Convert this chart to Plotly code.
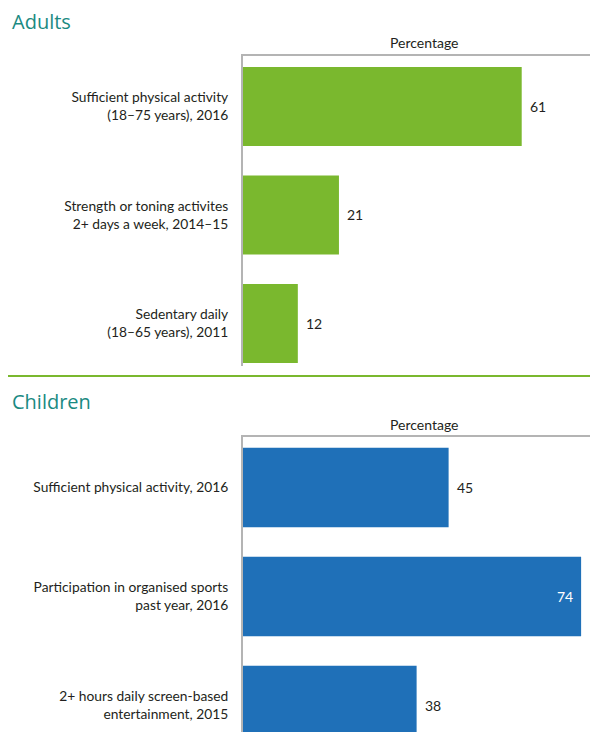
import plotly.graph_objects as go

adult_categories = ["Sufficient physical activity<br>(18–75 years), 2016",
                    "Strength or toning activites<br>2+ days a week, 2014–15",
                    "Sedentary daily<br>(18–65 years), 2011"]
adult_values = [61, 21, 12]
child_categories = ["Sufficient physical activity, 2016",
                    "Participation in organised sports<br>past year, 2016",
                    "2+ hours daily screen-based<br>entertainment, 2015"]
child_values = [45, 74, 38]
axis_title = "Percentage"
panel_titles = ["Adults", "Children"]

# page body has an 8px margin; the visible figure area is 582 x 724 starting at (8, 8)
OFF = 8
W, H = 598 - 2 * OFF, 740 - 2 * OFF
GREEN = "#7ab82e"
BLUE = "#1f70b8"
TEAL = "#1a8a82"
TXT = "#231f20"
FONT = "Lato"
AXIS_LEFT = 243
RIGHT = OFF + W
XR = [0, (RIGHT - AXIS_LEFT) / 4.569]
SCALE = (RIGHT - AXIS_LEFT) / (XR[1] - XR[0])

def pxx(px):
    return (px - OFF) / W

def pyy(py):
    return 1 - (py - OFF) / H

def value_label(v, xref, yref, cat):
    # outside the bar when it fits in the visible area, otherwise inside in white
    end = AXIS_LEFT + v * SCALE
    width = 7.6 * len(str(v))
    base = dict(x=v, y=cat, xref=xref, yref=yref, text=str(v), showarrow=False)
    if end + 6 + width <= RIGHT - 1:
        return dict(**base, xanchor="left", xshift=6,
                    font=dict(family=FONT, size=14, color=TXT))
    return dict(**base, xanchor="right", xshift=-6,
                font=dict(family=FONT, size=14, color="white"))

fig = go.Figure()
fig.add_trace(go.Bar(y=adult_categories, x=adult_values, orientation="h",
                     marker=dict(color=GREEN, line=dict(width=0)),
                     xaxis="x", yaxis="y", hoverinfo="skip"))
fig.add_trace(go.Bar(y=child_categories, x=child_values, orientation="h",
                     marker=dict(color=BLUE, line=dict(width=0)),
                     xaxis="x2", yaxis="y2", hoverinfo="skip"))

common_x = dict(domain=[pxx(AXIS_LEFT), 1], range=XR, side="top", showline=True,
                linecolor="#b4b4b4", linewidth=2, showticklabels=False,
                showgrid=False, zeroline=False, ticks="")
common_y = dict(showline=True, linecolor="#b4b4b4", linewidth=2,
                showgrid=False, zeroline=False, ticks="outside", ticklen=10,
                tickcolor="rgba(0,0,0,0)", tickfont=dict(family=FONT, size=13.8, color=TXT))

child_bottom = OFF + H
fig.update_layout(
    width=W, height=H, margin=dict(l=0, r=0, t=0, b=0),
    paper_bgcolor="white", plot_bgcolor="white", showlegend=False,
    bargap=0.272,
    xaxis=dict(anchor="y", **common_x),
    yaxis=dict(anchor="x", domain=[pyy(366), pyy(56)], range=[2.392, -0.465],
               categoryorder="array", categoryarray=adult_categories, **common_y),
    xaxis2=dict(anchor="y2", **common_x),
    yaxis2=dict(anchor="x2", domain=[0, pyy(437)],
                range=[2 + (child_bottom - 705.5) / 109, -0.463],
                categoryorder="array", categoryarray=child_categories, **common_y),
)

anns = []
for cat, v in zip(adult_categories, adult_values):
    anns.append(value_label(v, "x", "y", cat))
for cat, v in zip(child_categories, child_values):
    anns.append(value_label(v, "x2", "y2", cat))
for ypx in (42, 424):
    anns.append(dict(x=pxx(424), y=pyy(ypx), xref="paper", yref="paper", text=axis_title,
                     showarrow=False, xanchor="center", yanchor="middle",
                     font=dict(family=FONT, size=14, color=TXT)))
for t, ypx in zip(panel_titles, (21, 401)):
    anns.append(dict(x=pxx(10), y=pyy(ypx), xref="paper", yref="paper", text=t,
                     showarrow=False, xanchor="left", yanchor="middle",
                     font=dict(family="Open Sans", size=20, color=TEAL)))
fig.update_layout(annotations=anns)

fig.add_shape(type="line", xref="paper", yref="paper", x0=0, x1=1, y0=pyy(376), y1=pyy(376),
              line=dict(color=GREEN, width=2))

fig.write_html("out.html")
